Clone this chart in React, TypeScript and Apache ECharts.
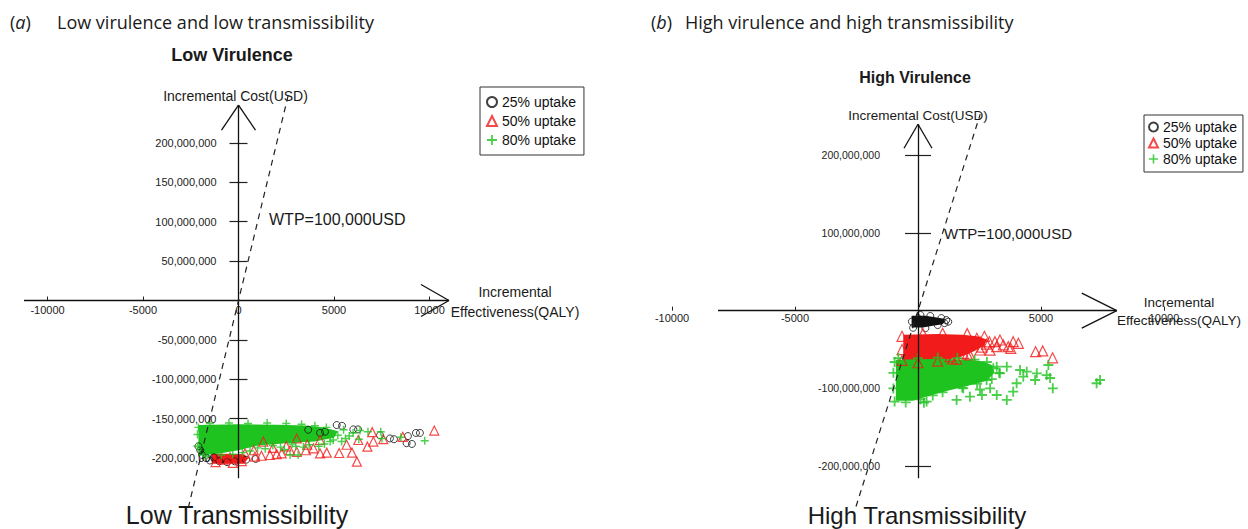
import React, { useEffect, useRef } from 'react';
import * as echarts from 'echarts';

// ---------- tick values ----------
const xTicks = [-10000, -5000, 0, 5000, 10000];
const yTicksLow = [-200e6, -150e6, -100e6, -50e6, 50e6, 100e6, 150e6, 200e6];
const yTicksHigh = [-200e6, -100e6, 100e6, 200e6];

// ---------- panel (a) : low virulence (QALY, USD) ----------
const lowVir25 = [
  [5140, -158e6], [6010, -163.5e6], [7930, -175e6], [8800, -181e6], [9290, -168e6], [3650, -164e6],
  [7410, -171e6], [4530, -166.5e6], [8870, -172e6], [9080, -182e6], [9500, -168e6], [8140, -176e6],
  [5420, -159e6], [6260, -163.5e6], [4270, -168e6],
  [-2000, -190e6], [-1900, -196e6], [-1700, -200e6], [-1500, -203e6], [-1300, -199e6], [-2100, -185e6],
  [-1000, -204e6], [-600, -205e6], [-200, -204e6], [400, -202e6], [900, -201e6],
];
const lowVir50Core = [[-1400, -194e6], [300, -195e6], [500, -200e6], [300, -207e6], [-1400, -207e6]];
const lowVir50 = [
  [170, -203.7e6], [1650, -196e6], [2260, -194e6], [3530, -190e6], [4620, -193e6], [5270, -193.5e6],
  [6200, -204.5e6], [6750, -185.5e6], [7000, -167e6], [8600, -173e6], [10250, -165e6], [5660, -183e6],
  [7060, -179e6], [5940, -193e6],
  [340, -194e6], [860, -198e6], [3050, -192e6], [2700, -190e6], [3920, -187.5e6], [4270, -194e6],
  [-445, -199e6], [-800, -202e6], [-1200, -205e6], [-300, -206e6], [1200, -197e6], [2000, -195e6],
  [3050, -175e6], [4270, -177e6], [1300, -179e6], [6270, -177e6], [7580, -176e6],
  [1800, -187e6], [2500, -185e6], [3600, -183e6], [800, -190e6],
];
const lowVir80Core = [
  [-2100, -158e6], [0, -157e6], [2000, -157.5e6], [3500, -158.5e6], [4500, -161e6], [5200, -166e6],
  [5000, -174e6], [4000, -179e6], [2500, -181e6], [1000, -184e6], [0, -190e6], [-1000, -194e6], [-2100, -197e6],
];
const lowVir80 = [
  [9750, -178e6], [8500, -173.5e6], [7450, -166.5e6], [2700, -196e6], [6360, -165e6], [4960, -177e6],
  [3120, -196e6], [7510, -175e6], [6780, -166.5e6],
  [-1500, -156e6], [-500, -155.5e6], [500, -156e6], [1500, -155.5e6], [2500, -156e6], [3300, -157e6],
  [4000, -159e6], [4600, -161e6], [5500, -164e6], [6000, -168e6], [5800, -172e6], [6300, -176e6],
  [5400, -179e6], [4500, -182e6], [3700, -183e6], [3000, -185e6], [2200, -186e6], [1400, -188e6],
  [600, -191e6], [200, -193e6], [-300, -195e6], [-900, -196e6], [-1700, -197.5e6], [-2150, -185e6],
  [-2150, -170e6], [-2100, -161e6],
  [1800, -184e6], [2800, -182e6], [3400, -186e6], [1000, -187e6], [4200, -185e6], [2400, -189e6],
  [5200, -171e6], [5600, -175e6], [4800, -179e6],
];
const wtpLow = [[-2630, -263e6], [2630, 263e6]];

// ---------- panel (b) : high virulence ----------
const highVir25Core = [
  [-260, -6.5e6], [300, -6.5e6], [700, -8.5e6], [1050, -10.5e6], [1100, -14e6], [1000, -17.5e6],
  [600, -19.5e6], [200, -21.5e6], [-260, -21.5e6],
];
const highVir25 = [
  [1150, -12e6], [1230, -14.2e6], [1080, -16e6], [950, -9.5e6], [-250, -14e6], [100, -5.5e6],
  [500, -6.8e6], [-200, -22e6], [300, -22.5e6], [800, -18.5e6],
];
const highVir50Core = [
  [-600, -31e6], [800, -30e6], [1800, -31e6], [2400, -33e6], [2800, -37e6], [2700, -44e6],
  [2300, -52e6], [1700, -60e6], [1000, -64e6], [-600, -66e6],
];
const highVir50 = [
  [2520, -39.9e6], [2790, -42.9e6], [3130, -39.9e6], [3470, -44.1e6], [3770, -48.4e6], [4080, -42e6],
  [4780, -52.8e6], [5070, -51.8e6], [5470, -60.6e6], [2110, -57e6], [2930, -50.8e6], [3200, -46.3e6],
  [1300, -59.2e6], [1980, -39.9e6], [2390, -35.5e6], [3330, -37.7e6], [2520, -50.6e6], [1570, -62.5e6],
  [1840, -54.8e6], [3870, -39.9e6], [3670, -46.3e6],
  [-650, -33e6], [-650, -50e6], [-650, -64e6], [0, -67e6], [800, -65e6], [1400, -62e6], [2000, -56e6],
  [2600, -47e6], [2900, -40e6], [2700, -33e6], [2000, -29.5e6], [1000, -29e6], [200, -29.5e6],
];
const highVir80Core = [
  [-900, -63e6], [1000, -62e6], [2000, -63e6], [2600, -65e6], [3000, -70e6], [3100, -80e6],
  [2800, -90e6], [2000, -97e6], [1200, -103e6], [400, -110e6], [-200, -116e6], [-900, -116e6],
];
const highVir80 = [
  [5300, -69.9e6], [5230, -82.8e6], [5480, -99.9e6], [4280, -84.9e6], [4760, -89.2e6], [3870, -104.2e6],
  [3610, -114.9e6], [3200, -108.5e6], [2790, -89.2e6], [350, -117e6], [7400, -89.2e6], [7260, -93.4e6],
  [4150, -76.3e6], [4420, -78.5e6], [2520, -101.4e6], [2110, -110.7e6], [1840, -99.9e6], [3330, -80.6e6],
  [3610, -72.1e6], [3060, -74.1e6], [4830, -80.6e6], [4010, -93.4e6], [2930, -99.9e6], [1570, -114.9e6],
  [5370, -86.6e6], [2600, -108.5e6], [240, -118.4e6],
  [-800, -61e6], [0, -61e6], [800, -60.5e6], [1600, -61e6], [2300, -63e6], [2800, -66e6], [3200, -72e6],
  [3300, -80e6], [3000, -88e6], [2400, -94e6], [1800, -99e6], [1000, -105e6], [600, -109e6], [100, -114e6],
  [-500, -118e6], [-950, -117e6], [-1000, -100e6], [-1000, -80e6], [-950, -66e6],
];
const wtpHigh = [[-2520, -252e6], [2530, 253e6]];

// ---------- styling / layout ----------
const PLOT_FONT = '"Liberation Sans", Arial, sans-serif';
const HEAD_FONT = '"Open Sans", sans-serif';
const RED = '#f21b1b';
const GREEN = '#1fc31f';
const BLACK = '#111';
const LABEL = '#222';
const PLUS = 'path://M4.1,0H5.9V4.1H10V5.9H5.9V10H4.1V5.9H0V4.1H4.1Z';
const NAMES = ['25% uptake', '50% uptake', '80% uptake'];
const HIDDEN_LINE = { show: false, onZero: false };

const panels = [
  {
    grid: { left: 9.3, top: 90.9, width: 458.4, height: 422.4 },
    xr: [-12000, 12000], yr: [-270e6, 266e6],
    ext: { x: [-11230, 11020], y: [-225.6e6, 248e6] },
    arrow: { upHalf: 17, upLen: 25, rightHalf: 16, rightLen: 28 },
    yTicks: yTicksLow, yTickLen: 9, yLabelMargin: 22, yFont: 11, xFont: 11, xMargin: 4,
    sym: { c: 7, t: 9, p: 8 },
    s25: lowVir25, c25: null as any, s50: lowVir50, c50: lowVir50Core, s80: lowVir80, c80: lowVir80Core,
    wtp: wtpLow,
  },
  {
    grid: { left: 647.4, top: 111.8, width: 541.2, height: 397.8 },
    xr: [-11000, 11000], yr: [-256e6, 256e6],
    ext: { x: [-8130, 8080], y: [-215.7e6, 240e6] },
    arrow: { upHalf: 14, upLen: 24, rightHalf: 17.5, rightLen: 35 },
    yTicks: yTicksHigh, yTickLen: 13, yLabelMargin: 38, yFont: 10.5, xFont: 11, xMargin: 2,
    sym: { c: 7, t: 10, p: 10 },
    s25: highVir25, c25: highVir25Core, s50: highVir50, c50: highVir50Core, s80: highVir80, c80: highVir80Core,
    wtp: wtpHigh,
  },
];

function polygonSeries(data: number[][], color: string, gi: number) {
  return {
    type: 'custom', xAxisIndex: gi, yAxisIndex: gi * 2, silent: true, data,
    renderItem: (params: any, api: any) => {
      if (params.dataIndex !== 0) return null;
      return { type: 'polygon', shape: { points: data.map((p) => api.coord(p)) }, style: { fill: color } };
    },
  };
}

function axisSegments(p: any) {
  const kx = (p.xr[1] - p.xr[0]) / p.grid.width;
  const ky = (p.yr[1] - p.yr[0]) / p.grid.height;
  const e = p.ext, a = p.arrow;
  return [
    [[e.x[0], 0], [e.x[1], 0]],
    [[0, e.y[0]], [0, e.y[1]]],
    [[e.x[1], 0], [e.x[1] - a.rightLen * kx, a.rightHalf * ky]],
    [[e.x[1], 0], [e.x[1] - a.rightLen * kx, -a.rightHalf * ky]],
    [[0, e.y[1]], [a.upHalf * kx, e.y[1] - a.upLen * ky]],
    [[0, e.y[1]], [-a.upHalf * kx, e.y[1] - a.upLen * ky]],
  ];
}

function buildOption() {
  const grids: any[] = [];
  const xAxes: any[] = [];
  const yAxes: any[] = [];
  const series: any[] = [];
  panels.forEach((p, gi) => {
    grids.push({ ...p.grid, containLabel: false, outerBoundsMode: 'none' });
    // place the axes through the origin (bottom / left offsets, negative = inward)
    const xOffset = -((0 - p.yr[0]) / (p.yr[1] - p.yr[0])) * p.grid.height;
    const yOffset = -((0 - p.xr[0]) / (p.xr[1] - p.xr[0])) * p.grid.width;
    xAxes.push({
      type: 'value', gridIndex: gi, min: p.xr[0], max: p.xr[1], position: 'bottom', offset: xOffset,
      axisLine: HIDDEN_LINE,
      axisTick: { show: true, inside: true, length: 4, customValues: xTicks, lineStyle: { color: '#222', width: 1 } },
      axisLabel: { show: true, customValues: xTicks, formatter: (v: number) => String(v), fontSize: p.xFont, margin: p.xMargin, color: LABEL, fontFamily: PLOT_FONT },
      splitLine: { show: false },
    });
    [false, true].forEach((inside) => {
      yAxes.push({
        type: 'value', gridIndex: gi, min: p.yr[0], max: p.yr[1], position: 'left', offset: yOffset,
        axisLine: HIDDEN_LINE,
        axisTick: { show: true, inside, length: p.yTickLen, customValues: p.yTicks, lineStyle: { color: '#222', width: 1.2 } },
        axisLabel: {
          show: !inside, customValues: p.yTicks, formatter: (v: number) => v.toLocaleString('en-US'),
          fontSize: p.yFont, margin: p.yLabelMargin, color: LABEL, fontFamily: PLOT_FONT,
        },
        splitLine: { show: false },
      });
    });
    const common = { xAxisIndex: gi, yAxisIndex: gi * 2, type: 'scatter' };
    if (p.c25) series.push(polygonSeries(p.c25, BLACK, gi));
    series.push({ ...common, name: NAMES[0], data: p.s25, symbol: 'circle', symbolSize: p.sym.c,
      itemStyle: { color: 'rgba(0,0,0,0)', borderColor: BLACK, borderWidth: 1 } });
    series.push(polygonSeries(p.c50, RED, gi));
    series.push({ ...common, name: NAMES[1], data: p.s50, symbol: 'triangle', symbolSize: p.sym.t,
      itemStyle: { color: 'rgba(0,0,0,0)', borderColor: RED, borderWidth: 1.2 } });
    series.push(polygonSeries(p.c80, GREEN, gi));
    series.push({ ...common, name: NAMES[2], data: p.s80, symbol: PLUS, symbolSize: p.sym.p,
      itemStyle: { color: GREEN } });
    series.push({
      type: 'line', xAxisIndex: gi, yAxisIndex: gi * 2, data: p.wtp, symbol: 'none', showSymbol: false, z: 5,
      lineStyle: { color: '#222', width: 1.2, type: [6, 5] }, silent: true,
      markLine: {
        silent: true, symbol: 'none', label: { show: false },
        lineStyle: { color: '#111', width: 1.3, type: 'solid' },
        emphasis: { disabled: true },
        data: axisSegments(p).map(([a, b]) => [{ coord: a }, { coord: b }]),
      },
    });
  });

  const txt = (x: number, y: number, text: string, size: number, opts: any = {}) => ({
    type: 'text', x, y, silent: true,
    style: {
      text, fontSize: size, fontFamily: opts.family || PLOT_FONT, fontWeight: opts.weight || 'normal',
      fill: opts.fill || '#1a1a1a', textAlign: opts.align || 'center', textVerticalAlign: 'middle',
      lineHeight: opts.lineHeight, rich: opts.rich,
    },
  });
  const headRich = { i: { fontStyle: 'italic', fontSize: 18, fontFamily: HEAD_FONT, fill: '#1a1a1a' } };

  return {
    animation: false,
    backgroundColor: '#fff',
    grid: grids,
    xAxis: xAxes,
    yAxis: yAxes,
    series,
    legend: [
      {
        left: 480, top: 87, orient: 'vertical', data: NAMES, selectedMode: false,
        padding: [7, 8, 7, 6], itemWidth: 10, itemHeight: 10, itemGap: 3,
        borderColor: '#333', borderWidth: 1,
        textStyle: { fontSize: 14, lineHeight: 16, fontFamily: PLOT_FONT, color: '#111' },
      },
      {
        left: 1144, top: 115, orient: 'vertical', data: NAMES, selectedMode: false,
        padding: [5, 6, 6, 4], itemWidth: 9, itemHeight: 9, itemGap: 2,
        borderColor: '#333', borderWidth: 1,
        textStyle: { fontSize: 14, lineHeight: 14, fontFamily: PLOT_FONT, color: '#111' },
      },
    ],
    graphic: [
      txt(10, 22, '({i|a})', 18, { family: HEAD_FONT, align: 'left', rich: headRich }),
      txt(57, 22, 'Low virulence and low transmissibility', 18, { family: HEAD_FONT, align: 'left' }),
      txt(651, 22, '({i|b})', 18, { family: HEAD_FONT, align: 'left', rich: headRich }),
      txt(685, 22, 'High virulence and high transmissibility', 18, { family: HEAD_FONT, align: 'left' }),
      txt(232, 55, 'Low Virulence', 18, { weight: 'bold' }),
      txt(915, 77, 'High Virulence', 16, { weight: 'bold' }),
      txt(235.5, 95.5, 'Incremental Cost(USD)', 14),
      txt(918, 115.7, 'Incremental Cost(USD)', 13.5),
      txt(269, 219.5, 'WTP=100,000USD', 16, { align: 'left' }),
      txt(944, 233, 'WTP=100,000USD', 15, { align: 'left' }),
      txt(515, 302, 'Incremental\nEffectiveness(QALY)', 14, { lineHeight: 19.5 }),
      txt(1179, 311.5, 'Incremental\nEffectiveness(QALY)', 13.5, { lineHeight: 17.5 }),
      txt(237, 515, 'Low Transmissibility', 25),
      txt(917, 515, 'High Transmissibility', 24),
    ],
  };
}

export default function App() {
  const ref = useRef<HTMLDivElement>(null);
  useEffect(() => {
    const chart = echarts.init(ref.current!, null, { renderer: 'svg' });
    chart.setOption(buildOption() as any);
    return () => chart.dispose();
  }, []);
  return (
    <div
      ref={ref}
      style={{ position: 'absolute', left: 0, top: 0, width: 1248, height: 529, background: '#fff' }}
    />
  );
}
